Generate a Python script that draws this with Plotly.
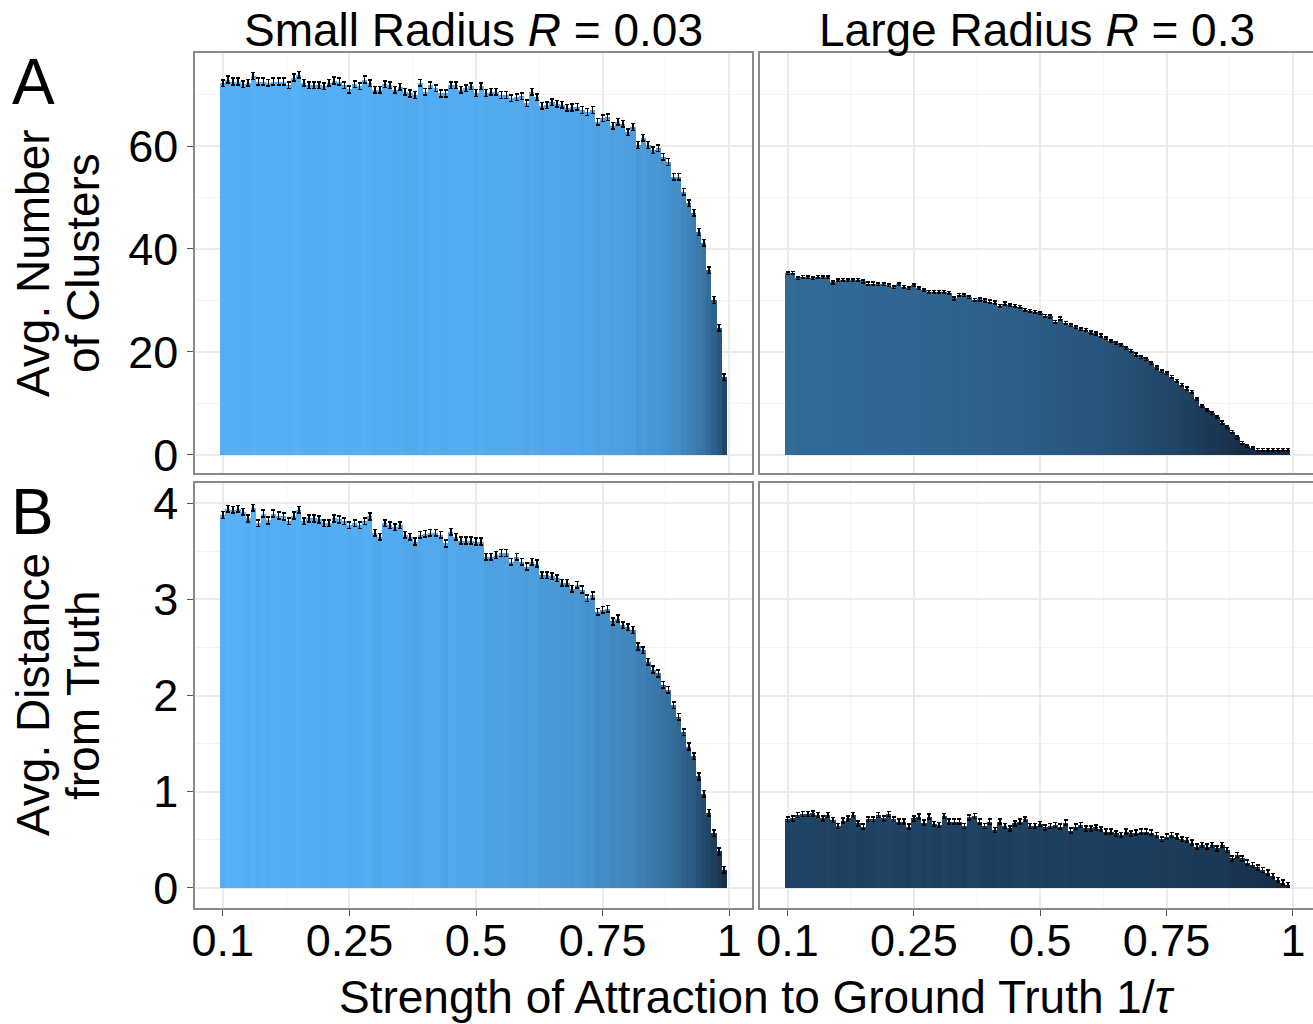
import plotly.graph_objects as go

# ---------------- data ----------------
bar_index = list(range(100))
tick_positions = [0, 25, 50, 75, 100]
tick_labels = ["0.1", "0.25", "0.5", "0.75", "1"]

clusters_small = [
    72.2, 72.9, 72.5, 72.5, 72.0, 72.3, 73.6, 72.5, 72.5, 72.3,
    72.5, 72.5, 72.5, 71.8, 73.3, 73.8, 72.3, 71.8, 71.8, 71.8,
    71.6, 72.3, 72.7, 72.5, 71.8, 71.0, 72.0, 71.6, 72.9, 72.2,
    70.9, 70.9, 72.0, 71.8, 70.9, 71.5, 70.5, 70.2, 69.9, 72.3,
    70.5, 71.8, 71.2, 70.2, 70.2, 71.8, 71.8, 70.9, 71.2, 71.6,
    70.3, 71.6, 70.3, 70.5, 70.5, 69.9, 69.9, 69.3, 69.5, 69.7,
    68.3, 70.5, 69.5, 67.8, 67.9, 68.5, 68.2, 68.0, 67.4, 67.5,
    67.6, 67.0, 66.6, 67.0, 64.7, 65.4, 65.6, 63.9, 64.7, 64.3,
    62.7, 63.7, 60.2, 61.6, 60.2, 59.2, 59.6, 57.9, 56.9, 54.0,
    54.0, 51.1, 48.9, 47.0, 43.3, 41.2, 35.9, 30.1, 24.7, 15.1,
]
clusters_large = [
    35.3, 35.4, 34.3, 34.6, 34.5, 34.3, 34.6, 34.5, 34.5, 33.5,
    33.9, 34.0, 33.9, 33.9, 34.0, 33.7, 33.3, 33.3, 33.2, 33.2,
    33.0, 32.6, 33.2, 32.7, 32.4, 33.0, 32.4, 32.0, 31.7, 31.7,
    31.7, 31.7, 31.5, 30.4, 31.1, 31.0, 30.6, 30.1, 30.2, 30.0,
    29.8, 29.6, 29.0, 29.4, 29.1, 29.0, 28.8, 28.2, 28.0, 27.8,
    27.5, 27.0, 26.9, 25.9, 26.5, 25.7, 25.2, 24.8, 24.4, 24.3,
    23.8, 23.6, 23.2, 22.7, 22.1, 21.7, 21.3, 20.7, 20.2, 19.5,
    19.0, 18.6, 17.8, 17.0, 16.3, 15.9, 15.2, 14.4, 13.6, 12.9,
    12.3, 10.8, 9.5, 8.7, 8.1, 7.3, 6.3, 5.4, 4.5, 3.4,
    2.4, 1.7, 1.3, 1.0, 1.0, 1.0, 1.0, 1.0, 1.0, 1.0,
]
distance_small = [
    3.875, 3.94, 3.93, 3.94, 3.91, 3.84, 3.95, 3.79, 3.89, 3.82,
    3.89, 3.87, 3.86, 3.81, 3.87, 3.93, 3.81, 3.84, 3.84, 3.83,
    3.79, 3.79, 3.84, 3.83, 3.81, 3.77, 3.79, 3.77, 3.81, 3.86,
    3.69, 3.65, 3.79, 3.77, 3.75, 3.77, 3.67, 3.65, 3.60, 3.67,
    3.68, 3.69, 3.69, 3.67, 3.58, 3.70, 3.65, 3.61, 3.61, 3.61,
    3.60, 3.60, 3.44, 3.44, 3.46, 3.48, 3.48, 3.39, 3.44, 3.39,
    3.34, 3.39, 3.37, 3.25, 3.25, 3.24, 3.22, 3.17, 3.17, 3.11,
    3.15, 3.10, 3.01, 3.04, 2.87, 2.89, 2.90, 2.77, 2.80, 2.73,
    2.71, 2.68, 2.51, 2.47, 2.35, 2.27, 2.23, 2.11, 2.06, 1.90,
    1.78, 1.62, 1.47, 1.37, 1.16, 0.98, 0.78, 0.57, 0.38, 0.19,
]
distance_large = [
    0.714, 0.723, 0.758, 0.769, 0.769, 0.776, 0.758, 0.723, 0.758, 0.707,
    0.644, 0.700, 0.723, 0.758, 0.672, 0.637, 0.714, 0.714, 0.758, 0.723,
    0.769, 0.714, 0.689, 0.689, 0.637, 0.723, 0.741, 0.679, 0.741, 0.665,
    0.655, 0.748, 0.689, 0.689, 0.689, 0.644, 0.734, 0.748, 0.689, 0.644,
    0.689, 0.603, 0.689, 0.644, 0.620, 0.672, 0.689, 0.714, 0.644, 0.644,
    0.665, 0.630, 0.644, 0.655, 0.637, 0.679, 0.596, 0.637, 0.655, 0.620,
    0.620, 0.630, 0.610, 0.585, 0.585, 0.568, 0.551, 0.585, 0.568, 0.575,
    0.585, 0.585, 0.575, 0.551, 0.506, 0.533, 0.551, 0.533, 0.506, 0.499,
    0.471, 0.430, 0.447, 0.430, 0.447, 0.412, 0.447, 0.395, 0.308, 0.343,
    0.308, 0.263, 0.239, 0.215, 0.187, 0.160, 0.125, 0.083, 0.055, 0.031,
]
# standard errors (approximately constant within each panel)
clusters_small_se = 0.65
clusters_large_se = 0.25
distance_small_se = 0.035
distance_large_se = 0.025

# ---------------- geometry (pixels) ----------------
W, H = 1313, 1024
L, R, T, B = 195, 0, 53, 116
PW, PH = W - L - R, H - T - B


def px_x(p):
    return (p - L) / PW


def px_y(p):
    return (H - B - p) / PH


FONT = "Liberation Sans, Arial, Helvetica, sans-serif"
colorscale = [[0, "#132B43"], [1, "#56B1F7"]]
rowA = clusters_small + clusters_large
rowB = distance_small + distance_large

fig = go.Figure()


def add_bars(vals, se, xa, ya, cmin, cmax):
    fig.add_trace(go.Bar(
        x=bar_index, y=vals, width=1.0, xaxis=xa, yaxis=ya,
        marker=dict(color=vals, colorscale=colorscale, cmin=cmin, cmax=cmax,
                    showscale=False, line=dict(width=0)),
        error_y=dict(type="data", array=[se] * len(vals), color="black",
                     thickness=1.6, width=2),
        showlegend=False, hoverinfo="skip",
    ))


add_bars(clusters_small, clusters_small_se, "x", "y", min(rowA), max(rowA))
add_bars(clusters_large, clusters_large_se, "x2", "y2", min(rowA), max(rowA))
add_bars(distance_small, distance_small_se, "x3", "y3", min(rowB), max(rowB))
add_bars(distance_large, distance_large_se, "x4", "y4", min(rowB), max(rowB))

left_dom = [0, px_x(752)]
right_dom = [px_x(760), 1]
top_dom = [px_y(473), 1]
bot_dom = [0, px_y(483)]

grid = dict(showgrid=True, gridcolor="#EBEBEB", gridwidth=1.5, zeroline=False,
            showline=True, mirror=True, linecolor="#8a8a8a", linewidth=1.5)
x_minor = dict(tickvals=[12.5, 37.5, 62.5, 87.5], showgrid=True,
               gridcolor="#F4F4F4", gridwidth=1, ticks="")
xrange_left = [-5.5, 104.5]
xrange_right = [-5.44, 103.96]

common_x = dict(tickvals=tick_positions, ticktext=tick_labels,
                tickfont=dict(family=FONT, size=45, color="black"), minor=x_minor, **grid)

fig.update_layout(
    xaxis=dict(domain=left_dom, range=xrange_left, anchor="y", showticklabels=False, ticks="", **common_x),
    xaxis2=dict(domain=right_dom, range=xrange_right, anchor="y2", showticklabels=False, ticks="", **common_x),
    xaxis3=dict(domain=left_dom, range=xrange_left, anchor="y3", ticks="outside", ticklen=6,
                tickcolor="#555555", tickwidth=1.2, ticklabelstandoff=-14, **common_x),
    xaxis4=dict(domain=right_dom, range=xrange_right, anchor="y4", ticks="outside", ticklen=6,
                tickcolor="#555555", tickwidth=1.2, ticklabelstandoff=-14, **common_x),
    yaxis=dict(domain=top_dom, range=[-3.50, 78.06], anchor="x", tickvals=[0, 20, 40, 60],
               ticks="outside", ticklen=6, tickcolor="#555555", tickwidth=1.2,
               tickfont=dict(family=FONT, size=45, color="black"),
               minor=dict(tickvals=[10, 30, 50, 70], showgrid=True, gridcolor="#F4F4F4", gridwidth=1, ticks=""),
               **grid),
    yaxis2=dict(domain=top_dom, range=[-3.50, 78.06], anchor="x2", tickvals=[0, 20, 40, 60],
                showticklabels=False, ticks="",
                minor=dict(tickvals=[10, 30, 50, 70], showgrid=True, gridcolor="#F4F4F4", gridwidth=1, ticks=""),
                **grid),
    yaxis3=dict(domain=bot_dom, range=[-0.208, 4.208], anchor="x3", tickvals=[0, 1, 2, 3, 4],
                ticks="outside", ticklen=6, tickcolor="#555555", tickwidth=1.2,
                tickfont=dict(family=FONT, size=45, color="black"),
                minor=dict(tickvals=[0.5, 1.5, 2.5, 3.5], showgrid=True, gridcolor="#F4F4F4", gridwidth=1, ticks=""),
                **grid),
    yaxis4=dict(domain=bot_dom, range=[-0.208, 4.208], anchor="x4", tickvals=[0, 1, 2, 3, 4],
                showticklabels=False, ticks="",
                minor=dict(tickvals=[0.5, 1.5, 2.5, 3.5], showgrid=True, gridcolor="#F4F4F4", gridwidth=1, ticks=""),
                **grid),
    width=W, height=H,
    margin=dict(l=L, r=R, t=T, b=B, autoexpand=False),
    paper_bgcolor="white", plot_bgcolor="white",
    bargap=0, barmode="overlay",
    font=dict(family=FONT, color="black"),
)


def ann(text, px, py, size, angle=0):
    fig.add_annotation(text=text, x=px_x(px), y=px_y(py), xref="paper", yref="paper",
                       showarrow=False, textangle=angle, xanchor="center", yanchor="middle",
                       font=dict(family=FONT, size=size, color="black"))


ann("Small Radius <i>R</i> = 0.03", 473.5, 30, 46)
ann("Large Radius <i>R</i> = 0.3", 1036.5, 30, 46)
ann("Strength of Attraction to Ground Truth 1/<i>τ</i>", 757, 997, 46)
ann("Avg. Number", 33, 263, 46, -90)
ann("of Clusters", 83, 263, 46, -90)
ann("Avg. Distance", 33, 695, 46, -90)
ann("from Truth", 83, 695, 46, -90)
ann("A", 33, 82, 64)
ann("B", 32, 512, 64)

fig.write_html("out.html")
